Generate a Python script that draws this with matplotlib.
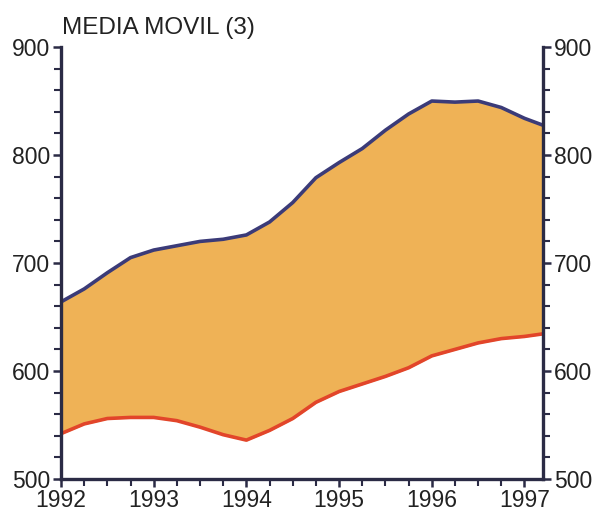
import matplotlib.pyplot as plt
from matplotlib.ticker import MultipleLocator

plt.rcParams['font.family'] = ['Liberation Sans', 'DejaVu Sans']

# trimestres de 1992 a 1997
trimestres = [1992.0, 1992.25, 1992.5, 1992.75, 1993.0, 1993.25, 1993.5, 1993.75,
              1994.0, 1994.25, 1994.5, 1994.75, 1995.0, 1995.25, 1995.5, 1995.75,
              1996.0, 1996.25, 1996.5, 1996.75, 1997.0, 1997.25]
superior = [664, 676, 691, 705, 712, 716, 720, 722,
            726, 738, 756, 779, 793, 806, 823, 838,
            850, 849, 850, 844, 834, 826]
inferior = [542, 551, 556, 557, 557, 554, 548, 541,
            536, 545, 556, 571, 581, 588, 595, 603,
            614, 620, 626, 630, 632, 635]
anos = [1992, 1993, 1994, 1995, 1996, 1997]

fig = plt.figure(figsize=(6.01, 5.13), dpi=100)
ax = fig.add_axes([0.1015, 0.0663, 0.802, 0.842])

ax.fill_between(trimestres, inferior, superior, color='#efb256', zorder=1)
ax.plot(trimestres, superior, color='#3b3b78', linewidth=2.6, zorder=2)
ax.plot(trimestres, inferior, color='#e2452a', linewidth=2.6, zorder=2)

ax.set_xlim(1992, 1997.2)
ax.set_ylim(500, 900)
ax.set_xticks(anos)
ax.xaxis.set_minor_locator(MultipleLocator(0.25))
ax.yaxis.set_major_locator(MultipleLocator(100))
ax.yaxis.set_minor_locator(MultipleLocator(20))

cor_eixo = '#2b2b45'
for lado in ['left', 'right', 'bottom']:
    ax.spines[lado].set_color(cor_eixo)
    ax.spines[lado].set_linewidth(2.4)
ax.spines['top'].set_visible(False)

ax.tick_params(axis='y', which='both', left=True, right=True, labelleft=True, labelright=True,
               direction='out', color=cor_eixo, labelsize=16.5, labelcolor='#222222', pad=2)
ax.tick_params(axis='y', which='major', length=6, width=1.8)
ax.tick_params(axis='y', which='minor', length=5, width=1.5)
ax.tick_params(axis='x', which='both', direction='out', color=cor_eixo, labelsize=16.5,
               labelcolor='#222222', pad=1)
ax.tick_params(axis='x', which='major', length=6, width=1.8)
ax.tick_params(axis='x', which='minor', length=5, width=1.5)

fig.text(0.103, 0.945, 'MEDIA MOVIL (3)', fontsize=17.5, color='#222222', va='center', ha='left')

plt.savefig('out.png', dpi=100)
